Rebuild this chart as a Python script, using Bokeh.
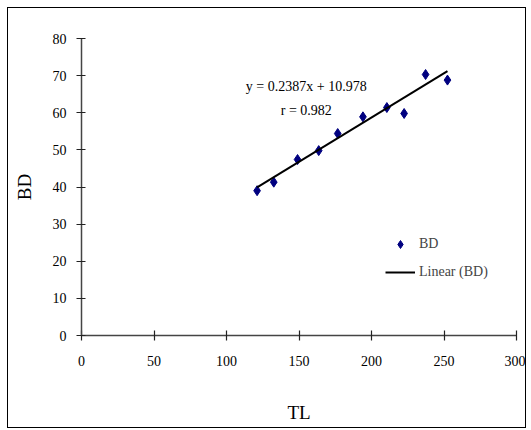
from bokeh.plotting import figure
from bokeh.models import Range1d, Label, Legend, LegendItem, FixedTicker
from bokeh.embed import file_html
from bokeh.resources import INLINE

# Data
TL = [121.1, 132.6, 149.0, 163.6, 176.7, 194.1, 210.6, 222.5, 237.3, 252.4]
BD = [39.0, 41.3, 47.4, 49.8, 54.4, 58.9, 61.4, 59.8, 70.3, 68.8]
slope = 0.2387
intercept = 10.978
r_value = 0.982
x_ticks = [0, 50, 100, 150, 200, 250, 300]
y_ticks = [0, 10, 20, 30, 40, 50, 60, 70, 80]

FONT = "Liberation Serif"

p = figure(width=519, height=421, output_backend="svg", toolbar_location=None,
           x_range=Range1d(0, 300), y_range=Range1d(0, 80),
           min_border_left=73, min_border_right=11, min_border_top=30,
           min_border_bottom=94)
p.margin = (7, 0, 0, 7)
p.styles = {"border": "1px solid black"}
p.background_fill_color = "white"
p.border_fill_color = "white"
p.outline_line_color = None
p.xgrid.visible = False
p.ygrid.visible = False

for ax in (p.xaxis[0], p.yaxis[0]):
    ax.axis_line_color = "#444444"
    ax.axis_line_width = 1.5
    ax.major_tick_line_color = "#222222"
    ax.major_tick_line_width = 1.2
    ax.minor_tick_line_color = None
    ax.major_label_text_font = FONT
    ax.major_label_text_font_size = "14px"
    ax.major_label_text_color = "black"
    ax.axis_label_text_font = FONT
    ax.axis_label_text_font_size = "19px"
    ax.axis_label_text_font_style = "normal"
    ax.axis_label_text_color = "black"

p.xaxis.ticker = FixedTicker(ticks=x_ticks)
p.yaxis.ticker = FixedTicker(ticks=y_ticks)
p.xaxis.major_tick_in = 5
p.xaxis.major_tick_out = 5
p.yaxis.major_tick_in = 4
p.yaxis.major_tick_out = 5
p.xaxis.major_label_standoff = 15
p.yaxis.major_label_standoff = 10
p.xaxis.axis_label = "TL"
p.yaxis.axis_label = "BD"
p.xaxis.axis_label_standoff = 33
p.yaxis.axis_label_standoff = 15

pts = p.scatter(TL, BD, marker="diamond", size=10, color="#000080")
x0, x1 = min(TL), max(TL)
trend = p.line([x0, x1], [slope * x0 + intercept, slope * x1 + intercept],
               line_color="black", line_width=2)

eq = Label(x=155, y=67.0, text=f"y = {slope}x + {intercept}", text_align="center",
           text_baseline="middle", text_font=FONT, text_font_size="14px", text_color="black")
rl = Label(x=155, y=60.5, text=f"r = {r_value}", text_align="center",
           text_baseline="middle", text_font=FONT, text_font_size="14px", text_color="black")
p.add_layout(eq)
p.add_layout(rl)

legend = Legend(items=[LegendItem(label="BD", renderers=[pts]),
                       LegendItem(label="Linear (BD)", renderers=[trend])],
                location=(304, 53), orientation="vertical",
                padding=0, margin=0, spacing=8,
                glyph_width=30, glyph_height=20, label_height=20,
                label_standoff=4, label_text_font=FONT, label_text_font_size="14px",
                border_line_color=None, background_fill_alpha=0)
p.add_layout(legend)

open("out.html", "w").write(file_html(p, INLINE))
